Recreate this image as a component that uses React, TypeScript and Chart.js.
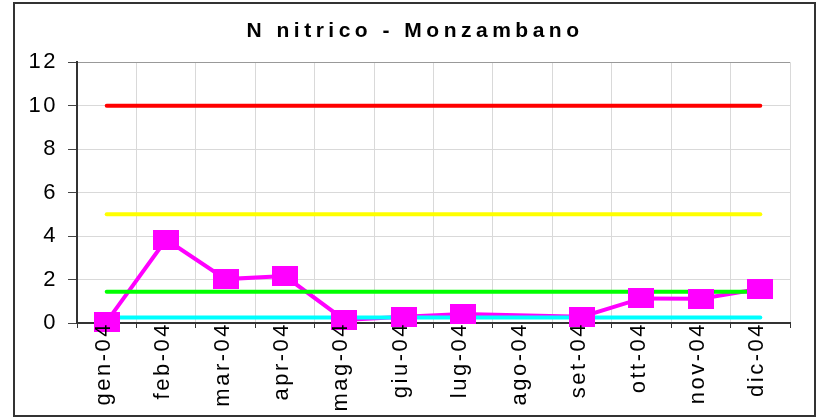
import React, { useEffect, useRef } from "react";
import { Chart, registerables } from "chart.js";

Chart.register(...registerables);

const categories = ["gen-04", "feb-04", "mar-04", "apr-04", "mag-04", "giu-04", "lug-04", "ago-04", "set-04", "ott-04", "nov-04", "dic-04"];
const nitricoValues: (number | null)[] = [0.06, 3.84, 2.02, 2.16, 0.14, 0.29, 0.41, null, 0.29, 1.13, 1.12, 1.58];
const limitRed = 10;
const limitYellow = 5;
const limitGreen = 1.44;
const limitCyan = 0.25;
const yTicks = [0, 2, 4, 6, 8, 10, 12];
const titleText = "N nitrico - Monzambano";

const FONT = "'Liberation Sans', Arial, sans-serif";
const TICK_SPACING = "2.5px";
const TITLE_SPACING = "4.5px";

const spacingPlugin = {
  id: "letterSpacing",
  beforeUpdate(chart: any) {
    chart.ctx.letterSpacing = TICK_SPACING;
  },
  beforeLayout(chart: any) {
    chart.ctx.letterSpacing = TICK_SPACING;
  },
  afterLayout(chart: any) {
    const tb = chart.titleBlock;
    if (tb) {
      tb.left = 40;
      if (!tb.__wrapped) {
        const orig = tb.draw.bind(tb);
        tb.draw = (area: any) => {
          const ctx = chart.ctx;
          ctx.letterSpacing = TITLE_SPACING;
          orig(area);
          ctx.letterSpacing = TICK_SPACING;
        };
        tb.__wrapped = true;
      }
    }
  },
  beforeDraw(chart: any) {
    chart.ctx.letterSpacing = TICK_SPACING;
  },
};

const constLine = (v: number) => categories.map(() => v);

export default function App() {
  const ref = useRef<HTMLCanvasElement | null>(null);

  useEffect(() => {
    if (!ref.current) return;
    const marker = document.createElement("canvas");
    marker.width = 26;
    marker.height = 20;
    const mctx = marker.getContext("2d")!;
    mctx.fillStyle = "#ff00ff";
    mctx.fillRect(0, 0, 26, 20);

    const lineDs = (data: number[], color: string) => ({
      data,
      borderColor: color,
      backgroundColor: color,
      borderWidth: 4,
      borderCapStyle: "round" as const,
      pointRadius: 0,
      order: 1,
    });

    const chart = new Chart(ref.current, {
      type: "line",
      data: {
        labels: categories,
        datasets: [
          {
            data: nitricoValues,
            showLine: false,
            pointStyle: marker as any,
            pointRadius: 10,
            backgroundColor: "#ff00ff",
            borderColor: "#ff00ff",
            clip: false as any,
            order: 0,
          },
          lineDs(constLine(limitRed), "#ff0000"),
          lineDs(constLine(limitYellow), "#ffff00"),
          lineDs(constLine(limitGreen), "#00ff00"),
          lineDs(constLine(limitCyan), "#00ffff"),
          {
            data: nitricoValues,
            borderColor: "#ff00ff",
            backgroundColor: "#ff00ff",
            borderWidth: 4,
            pointRadius: 0,
            spanGaps: true,
            order: 2,
          },
        ],
      },
      options: {
        animation: false,
        responsive: true,
        maintainAspectRatio: false,
        layout: { padding: { left: 0, right: 28, top: 0, bottom: 0 } },
        plugins: {
          legend: { display: false },
          tooltip: { enabled: false },
          title: {
            display: true,
            text: titleText,
            color: "#000",
            font: { family: FONT, size: 21, weight: "bold", lineHeight: 1.2 },
            padding: { top: 19, bottom: 18 },
          },
        },
        scales: {
          x: {
            type: "category",
            offset: true,
            grid: {
              offset: true,
              color: (ctx: any) => (ctx.index === categories.length ? "#999999" : "#d9d9d9"),
              lineWidth: 1,
              tickLength: 5,
              tickColor: "#333",
            },
            border: { color: "#333", width: 2 },
            ticks: {
              autoSkip: false,
              minRotation: 90,
              maxRotation: 90,
              padding: -6,
              labelOffset: -3,
              z: 1,
              color: "#000",
              font: { family: FONT, size: 22 },
            },
            afterFit: (scale: any) => {
              scale.height = 95;
            },
          },
          y: {
            min: 0,
            max: 12,
            afterBuildTicks: (scale: any) => {
              scale.ticks = yTicks.map((v) => ({ value: v }));
            },
            grid: {
              color: (ctx: any) => (ctx.tick && ctx.tick.value === 12 ? "#999999" : "#d9d9d9"),
              lineWidth: 1,
              tickLength: 9,
              tickColor: "#444",
            },
            border: { color: "#333", width: 2 },
            ticks: {
              padding: 10,
              color: "#000",
              font: { family: FONT, size: 22 },
            },
            afterFit: (scale: any) => {
              scale.width = 77;
            },
          },
        },
      },
      plugins: [spacingPlugin],
    });
    return () => chart.destroy();
  }, []);

  return (
    <div style={{ position: "fixed", left: 0, top: 0, width: 818, height: 418, background: "#fff" }}>
      <div
        style={{
          position: "absolute",
          left: 13,
          top: 2,
          width: 803,
          height: 415,
          border: "2px solid #333",
          boxSizing: "border-box",
        }}
      />
      <div style={{ position: "absolute", left: 0, top: 0, width: 818, height: 418 }}>
        <canvas ref={ref} />
      </div>
    </div>
  );
}
